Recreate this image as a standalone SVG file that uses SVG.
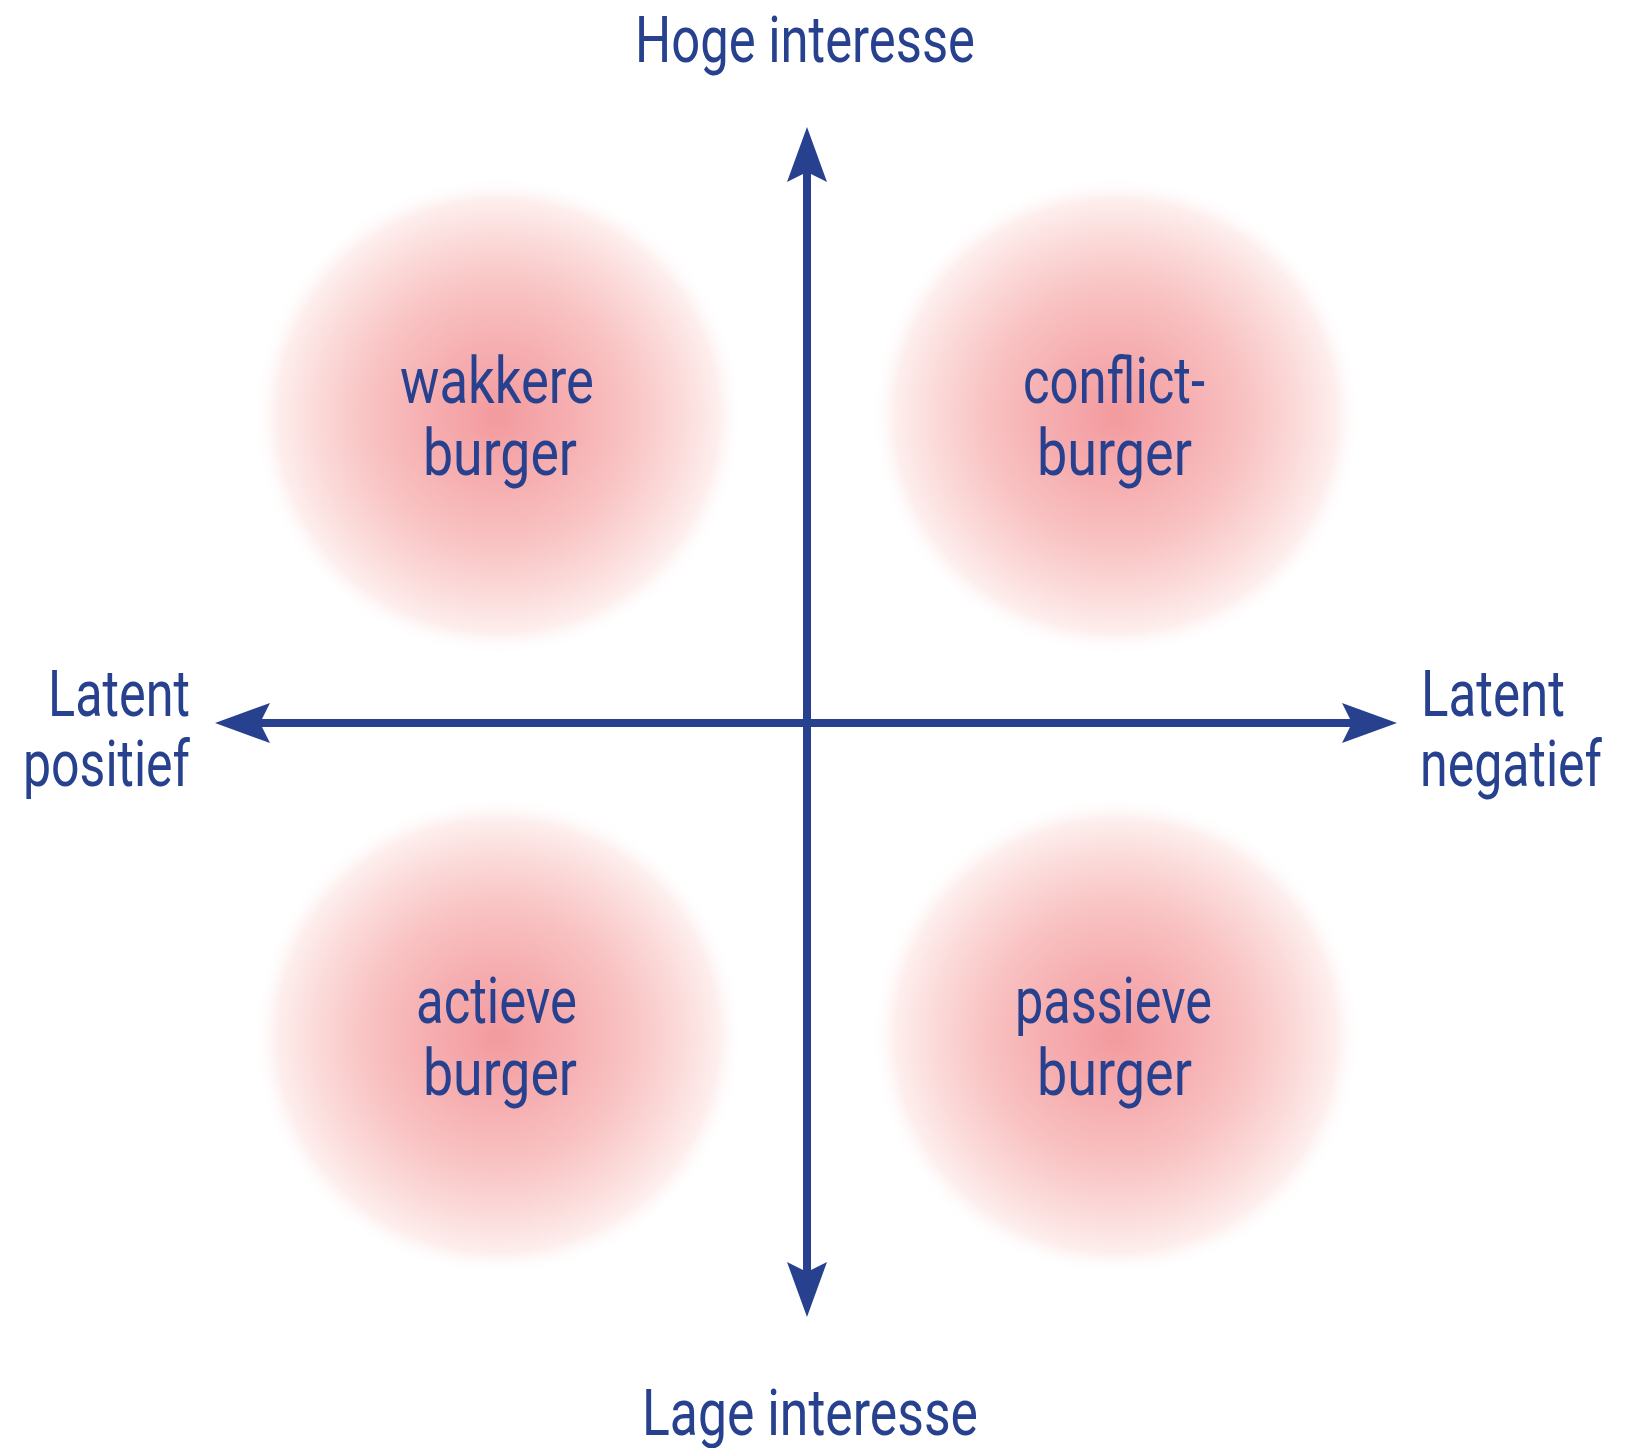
<svg xmlns="http://www.w3.org/2000/svg" width="1633" height="1448" viewBox="0 0 1633 1448">
<style>
  text { font-family: Roboto, "Liberation Sans", sans-serif; fill: #27418f; font-size: 64px; }
  .axis { stroke: #27418f; stroke-width: 8; fill: none; }
</style>
<defs>
  <radialGradient id="blob" cx="0.5" cy="0.5" r="0.5">
    <stop offset="0" stop-color="#f39a9e"/>
    <stop offset="0.3" stop-color="#f6afb1"/>
    <stop offset="0.55" stop-color="#f9c4c4"/>
    <stop offset="0.75" stop-color="#fbdbda"/>
    <stop offset="0.9" stop-color="#fdeeed"/>
    <stop offset="1" stop-color="#ffffff" stop-opacity="0"/>
  </radialGradient>
  <marker id="head" markerUnits="userSpaceOnUse" markerWidth="60" markerHeight="50" viewBox="-12 -22 60 44" refX="0" refY="0" orient="auto-start-reverse">
    <path d="M45,0 L-10,-20 L0,0 L-10,20 Z" fill="#27418f"/>
  </marker>
</defs>
<rect width="1633" height="1448" fill="#ffffff"/>

<g id="blob-wakkere">
  <ellipse cx="498" cy="416" rx="245" ry="240" fill="url(#blob)"/>
  <text x="400" y="403" textLength="194" lengthAdjust="spacingAndGlyphs">wakkere</text>
  <text x="423" y="475" textLength="154" lengthAdjust="spacingAndGlyphs">burger</text>
</g>
<g id="blob-conflict">
  <ellipse cx="1116" cy="416" rx="245" ry="240" fill="url(#blob)"/>
  <text x="1023" y="403" textLength="182" lengthAdjust="spacingAndGlyphs">conflict-</text>
  <text x="1037" y="475" textLength="155" lengthAdjust="spacingAndGlyphs">burger</text>
</g>
<g id="blob-actieve">
  <ellipse cx="498" cy="1036" rx="245" ry="240" fill="url(#blob)"/>
  <text x="416" y="1023" textLength="161" lengthAdjust="spacingAndGlyphs">actieve</text>
  <text x="423" y="1095" textLength="154" lengthAdjust="spacingAndGlyphs">burger</text>
</g>
<g id="blob-passieve">
  <ellipse cx="1116" cy="1036" rx="245" ry="240" fill="url(#blob)"/>
  <text x="1015" y="1023" textLength="197" lengthAdjust="spacingAndGlyphs">passieve</text>
  <text x="1037" y="1095" textLength="155" lengthAdjust="spacingAndGlyphs">burger</text>
</g>

<g id="connectors">
  <line class="axis" x1="807" y1="172" x2="807" y2="1272" marker-start="url(#head)" marker-end="url(#head)"/>
  <line class="axis" x1="260" y1="723" x2="1352" y2="723" marker-start="url(#head)" marker-end="url(#head)"/>
</g>

<g id="label-top">
  <text x="635" y="62" textLength="340" lengthAdjust="spacingAndGlyphs">Hoge interesse</text>
</g>
<g id="label-bottom">
  <text x="642" y="1435" textLength="336" lengthAdjust="spacingAndGlyphs">Lage interesse</text>
</g>
<g id="label-left">
  <text x="48" y="716" textLength="142" lengthAdjust="spacingAndGlyphs">Latent</text>
  <text x="23" y="786" textLength="167" lengthAdjust="spacingAndGlyphs">positief</text>
</g>
<g id="label-right">
  <text x="1421" y="716" textLength="144" lengthAdjust="spacingAndGlyphs">Latent</text>
  <text x="1420" y="786" textLength="182" lengthAdjust="spacingAndGlyphs">negatief</text>
</g>
</svg>
